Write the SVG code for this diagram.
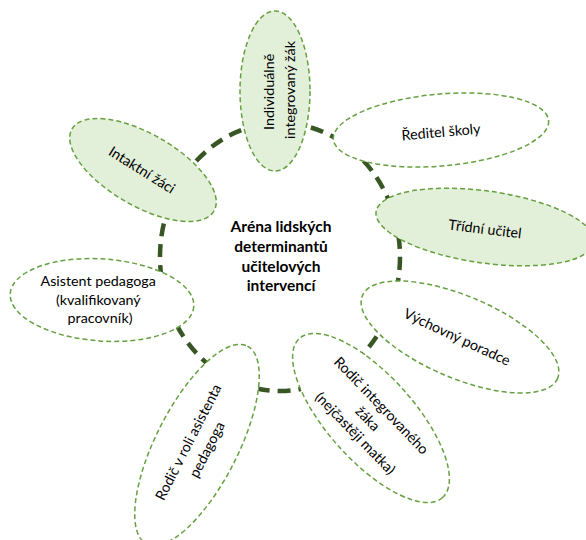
<svg xmlns="http://www.w3.org/2000/svg" width="586" height="540" viewBox="0 0 586 540">
  <style>
    .ring { fill: none; stroke: #375623; stroke-width: 4.5; stroke-dasharray: 13 8; }
    .node { stroke: #66A040; stroke-width: 1.5; stroke-dasharray: 5 3; }
    .tint { fill: #E2EFD9; }
    .plain { fill: #FFFFFF; }
    .lbl { font-family: Lato, "Liberation Sans", "DejaVu Sans", sans-serif; font-size: 14.3px; fill: #000000; text-anchor: middle; }
    .title { font-family: Lato, "Liberation Sans", "DejaVu Sans", sans-serif; font-size: 15.5px; font-weight: bold; fill: #000000; text-anchor: middle; }
  </style>

  <rect width="586" height="540" fill="#FFFFFF"/>

  <!-- dashed ring joining the participants -->
  <g id="connectors">
    <ellipse class="ring" cx="280" cy="257" rx="120" ry="134"/>
  </g>

  <!-- centre label -->
  <g id="arena">
    <text class="title" x="281" y="232">Aréna lidských</text>
    <text class="title" x="281" y="252">determinantů</text>
    <text class="title" x="281" y="271.5">učitelových</text>
    <text class="title" x="281" y="291">intervencí</text>
  </g>

  <g id="zak">
    <ellipse class="node tint" cx="275" cy="91" rx="35" ry="80"/>
    <text class="lbl" transform="translate(280,90) rotate(-90)">
      <tspan x="0" y="-6">Individuálně</tspan>
      <tspan x="0" y="15">integrovaný žák</tspan>
    </text>
  </g>

  <g id="reditel">
    <ellipse class="node plain" cx="441" cy="130" rx="108" ry="36" transform="rotate(-5 441 130)"/>
    <text class="lbl" transform="translate(441,132) rotate(-5)" y="5">Ředitel školy</text>
  </g>

  <g id="tridni">
    <ellipse class="node tint" cx="485" cy="227" rx="110" ry="36" transform="rotate(8 485 227)"/>
    <text class="lbl" transform="translate(485,229) rotate(7)" y="5">Třídní učitel</text>
  </g>

  <g id="vychovny">
    <ellipse class="node plain" cx="460" cy="337" rx="106" ry="41" transform="rotate(23 460 337)"/>
    <text class="lbl" transform="translate(457,337) rotate(25)" y="5">Výchovný poradce</text>
  </g>

  <g id="rodic-zaka">
    <ellipse class="node plain" cx="371" cy="418" rx="107" ry="43" transform="rotate(48 371 418)"/>
    <text class="lbl" transform="translate(369,420) rotate(46)">
      <tspan x="0" y="-14">Rodič integrovaného</tspan>
      <tspan x="0" y="5">žáka</tspan>
      <tspan x="0" y="24">(nejčastěji matka)</tspan>
    </text>
  </g>

  <g id="rodic-asistent">
    <ellipse class="node plain" cx="197" cy="445" rx="111" ry="41" transform="rotate(-63 197 445)"/>
    <text class="lbl" transform="translate(198,445) rotate(-63)">
      <tspan x="0" y="-5">Rodič v roli asistenta</tspan>
      <tspan x="0" y="15">pedagoga</tspan>
    </text>
  </g>

  <g id="asistent">
    <ellipse class="node plain" cx="102" cy="300" rx="92" ry="41" transform="rotate(4 102 300)"/>
    <text class="lbl">
      <tspan x="100" y="286">Asistent pedagoga</tspan>
      <tspan x="100" y="304.5">(kvalifikovaný</tspan>
      <tspan x="100" y="323">pracovník)</tspan>
    </text>
  </g>

  <g id="intaktni">
    <ellipse class="node tint" cx="143" cy="170" rx="82" ry="36" transform="rotate(30 143 170)"/>
    <text class="lbl" transform="translate(142,170) rotate(32)" y="5">Intaktní žáci</text>
  </g>
</svg>
